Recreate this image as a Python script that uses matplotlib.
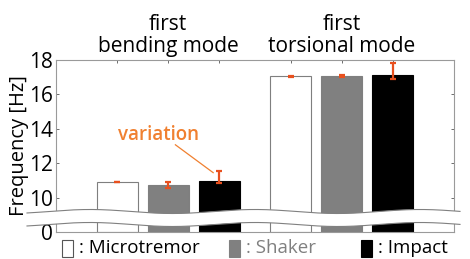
import numpy as np
import matplotlib
matplotlib.use("Agg")
import matplotlib.pyplot as plt
from matplotlib.patches import Rectangle, Polygon

plt.rcParams['font.family'] = ['Open Sans', 'DejaVu Sans']

modes = ["first\nbending mode", "first\ntorsional mode"]
methods = ["Microtremor", "Shaker", "Impact"]
freq = {
    "Microtremor": [10.91, 17.05],
    "Shaker": [10.74, 17.07],
    "Impact": [10.94, 17.11],
}
err_low = {
    "Microtremor": [10.89, 17.03],
    "Shaker": [10.54, 17.00],
    "Impact": [10.85, 16.90],
}
err_high = {
    "Microtremor": [10.93, 17.07],
    "Shaker": [10.89, 17.12],
    "Impact": [11.52, 17.81],
}
ytick_vals = [8, 10, 12, 14, 16, 18]
ytick_labels = ["0", "10", "12", "14", "16", "18"]

face = {"Microtremor": "white", "Shaker": "#808080", "Impact": "black"}
edge = {"Microtremor": "#7f7f7f", "Shaker": "#7f7f7f", "Impact": "black"}
ecol = "#e8501e"
orange = "#f08030"

fig = plt.figure(figsize=(4.7, 2.59), dpi=100)
ax = fig.add_axes([56/470, 1-232/259, 398/470, 172/259])

base = 8
group_x = [1.0, 4.4]
for i, m in enumerate(methods):
    xs = [g + i for g in group_x]
    vals = freq[m]
    ax.bar(xs, [v - base for v in vals], bottom=base, width=0.8,
           color=face[m], edgecolor=edge[m], linewidth=0.8, zorder=2)
    lo = [v - l for v, l in zip(vals, err_low[m])]
    hi = [h - v for v, h in zip(vals, err_high[m])]
    ax.errorbar(xs, vals, yerr=[lo, hi], fmt="none", ecolor=ecol,
                elinewidth=1.6, capsize=2.2, capthick=1.6, zorder=3)

ax.set_xlim(-0.2, 7.6)
ax.set_ylim(8, 18)
ax.set_yticks(ytick_vals)
ax.set_yticklabels(ytick_labels, fontsize=15)
xt = [g + i for g in group_x for i in range(3)]
ax.set_xticks(xt)
ax.set_xticklabels([])
ax.tick_params(direction="in", top=True, right=True, length=2.5, width=0.6,
               color="#555555", pad=2)
for s in ax.spines.values():
    s.set_color("#9a9a9a")
    s.set_linewidth(0.8)
ax.set_ylabel("Frequency [Hz]", fontsize=14.5, labelpad=0)

# group titles
for g, t in zip(group_x, modes):
    ax.text(g + 1, 18.2, t, ha="center", va="bottom", fontsize=15,
            linespacing=1.05, transform=ax.transData, clip_on=False)

# variation annotation
ax.text(1.81, 13.65, "variation", ha="center", va="center", fontsize=13.5,
        color=orange, fontweight="semibold")
ax.plot([2.14, 2.88], [13.07, 11.45], color=orange, lw=0.9, zorder=4)

# wavy break band (figure pixel coordinates)
xp = np.linspace(27, 460, 400)
ph = 2 * np.pi * (xp - 90) / 165.0
y_top = 211.5 - 2.0 * np.cos(ph)
y_bot = y_top + 13.0
W, H = 470, 259
top_f = np.column_stack([xp / W, 1 - y_top / H])
bot_f = np.column_stack([xp[::-1] / W, 1 - y_bot[::-1] / H])
poly = Polygon(np.vstack([top_f, bot_f]), closed=True, facecolor="white",
               edgecolor="none", transform=fig.transFigure, zorder=10)
fig.patches.append(poly)
fig.lines.append(plt.Line2D(xp / W, 1 - y_top / H, color="#808080", lw=0.8,
                            transform=fig.transFigure, zorder=11))
fig.lines.append(plt.Line2D(xp / W, 1 - y_bot / H, color="#808080", lw=0.8,
                            transform=fig.transFigure, zorder=11))

# legend
leg = [(62, "white", "#555555", ": Microtremor", "black"),
       (229, "#808080", "#808080", ": Shaker", "#808080"),
       (361, "black", "black", ": Impact", "black")]
for x0, fc, ec, lab, tc in leg:
    fig.patches.append(Rectangle((x0 / W, 1 - 257 / H), 11 / W, 17 / H,
                                 facecolor=fc, edgecolor=ec, lw=0.8,
                                 transform=fig.transFigure))
    fig.text((x0 + 17) / W, 1 - 248 / H, lab, ha="left", va="center",
             fontsize=13.5, color=tc)

fig.savefig("out.png", dpi=100)
